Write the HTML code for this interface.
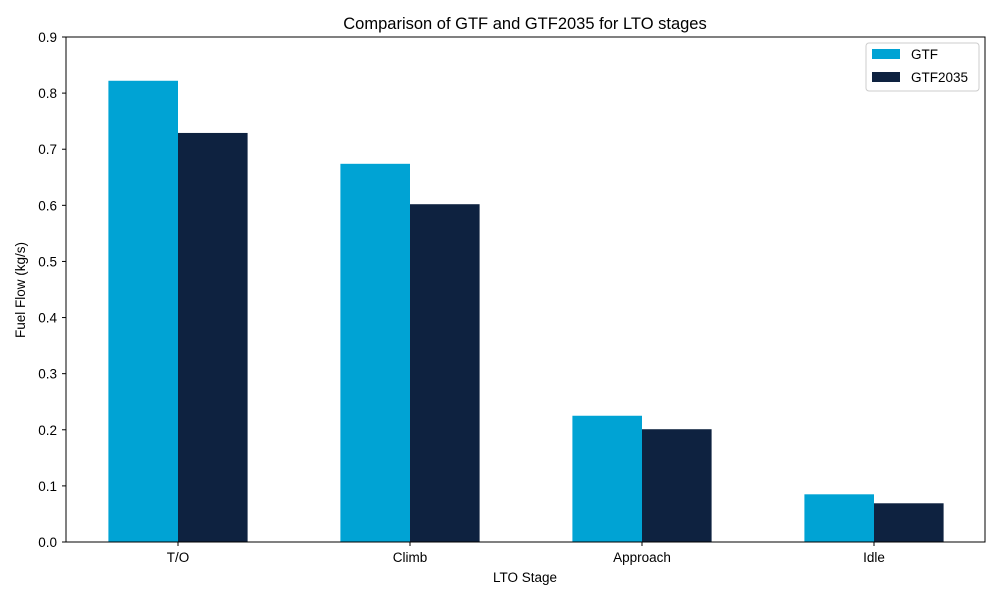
<!DOCTYPE html>
<html><head><meta charset="utf-8"><style>
body{margin:0;background:#fff;}
svg{display:block;font-family:"Liberation Sans","DejaVu Sans",sans-serif;}
</style></head><body>
<svg id="chart" width="1000" height="600">
<text x="525" y="29" text-anchor="middle" font-size="16.5" fill="#000">Comparison of GTF and GTF2035 for LTO stages</text>
<g id="yaxis"></g>
<g id="xaxis"></g>
<g id="bars"></g>
<rect x="66" y="37" width="919" height="505" fill="none" stroke="#000" stroke-width="1"/>
<text x="525" y="582" text-anchor="middle" font-size="13.5">LTO Stage</text>
<text transform="translate(25,290) rotate(-90)" text-anchor="middle" font-size="13.5">Fuel Flow (kg/s)</text>
<g>
<rect x="866" y="43" width="113" height="48" rx="3" fill="#fff" stroke="#ccc"/>
<rect x="872" y="49" width="28" height="10" fill="#00a3d4"/>
<text x="911" y="59" font-size="13.5">GTF</text>
<rect x="872" y="72" width="28" height="10" fill="#0e2240"/>
<text x="911" y="82" font-size="13.5">GTF2035</text>
</g>
</svg>
<script>
const categories=["T/O","Climb","Approach","Idle"];
const gtf=[0.822,0.674,0.225,0.085];
const gtf2035=[0.729,0.602,0.201,0.069];
const yTicks=[0,0.1,0.2,0.3,0.4,0.5,0.6,0.7,0.8,0.9];
const NS="http://www.w3.org/2000/svg";
const y=v=>542-v/0.9*505;
const x=i=>178+i*232;
const bw=69.6;
function mk(tag,attrs,parent,text){const e=document.createElementNS(NS,tag);for(const k in attrs)e.setAttribute(k,attrs[k]);if(text!==undefined)e.textContent=text;parent.appendChild(e);return e;}
const ya=document.getElementById('yaxis'),xa=document.getElementById('xaxis'),bars=document.getElementById('bars');
yTicks.forEach(t=>{
 const l=mk('line',{x1:62,x2:66,y1:y(t),y2:y(t),stroke:'#000'},ya);
 
 
 const tx=mk('text',{x:57,y:y(t)+5,'text-anchor':'end','font-size':'13.5'},ya,t.toFixed(1));
 
 
});
categories.forEach((c,i)=>{
 const l=mk('line',{x1:x(i),x2:x(i),y1:542,y2:546,stroke:'#000'},xa);
 
 
 const tx=mk('text',{x:x(i),y:562,'text-anchor':'middle','font-size':'13.5'},xa,c);
 
 
 const b1=mk('rect',{x:x(i)-bw,y:y(gtf[i]),width:bw,height:542-y(gtf[i]),fill:'#00a3d4'},bars);
 
 
 const b2=mk('rect',{x:x(i),y:y(gtf2035[i]),width:bw,height:542-y(gtf2035[i]),fill:'#0e2240'},bars);
 
 
});
</script>
</body></html>
